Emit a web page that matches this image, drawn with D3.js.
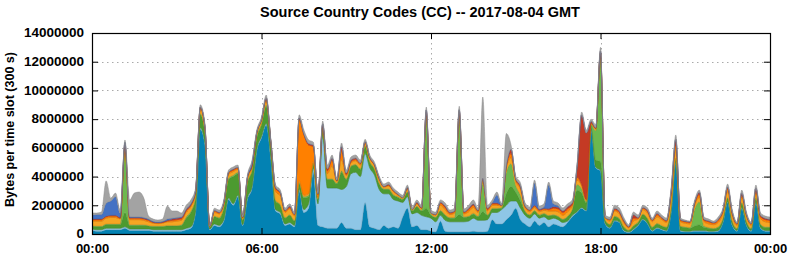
<!DOCTYPE html>
<html>
<head>
<meta charset="utf-8">
<script src="https://cdn.jsdelivr.net/npm/d3@7"></script>
<style>
  body { margin: 0; background: #fff; }
  svg { display: block; }
  text { font-family: "Liberation Sans", Arial, sans-serif; font-weight: bold; fill: #000; }
</style>
</head>
<body>
<div id="chart"></div>
<script>
// Chart text
const chartTitle = 'Source Country Codes (CC) -- 2017-08-04 GMT';
const yTitle = 'Bytes per time slot (300 s)';

// Axis ticks (y in millions of bytes, x in hours of the day)
const yTicks = [0, 2, 4, 6, 8, 10, 12, 14];
const yTickLabels = ['0', '2000000', '4000000', '6000000', '8000000', '10000000', '12000000', '14000000'];
const xTickHours = [0, 6, 12, 18, 24];
const xTickLabels = ['00:00', '06:00', '12:00', '18:00', '00:00'];

// one sample every 10 minutes, 00:00 .. 24:00
const slotMinutes = 10;

// series, bottom to top of the stack (values in millions of bytes)
const seriesKeys = ['teal', 'lightBlue', 'green', 'lightGreen', 'yellow', 'orange', 'red', 'blue', 'gray'];
const seriesColors = ['#0382b3', '#8ec6e6', '#4c9a30', '#6db84e', '#f5a623', '#ff8000', '#c43a24', '#4472c4', '#a3a3a3'];

const teal = [
  .25,.2,.2,.3,.3,.3,.3,.4,.25,.25,
  .25,.25,.25,.2,.2,.2,.2,.2,.2,.2,
  .3,.4,1.5,7.3,6.2,.3,.6,.5,.9,2.4,
  2.0,2.6,.6,2.4,3.2,5.8,6.7,7.6,5.2,1.6,
  1.4,.6,.7,.5,3.0,1.5,1.8,4.3,.6,.5,
  .4,.4,.4,.8,.4,.4,.3,.3,2.2,.5,
  .4,.3,.6,.4,.5,.4,1.2,1.8,.5,.6,
  .3,.3,.2,.15,.9,.2,.15,.15,.15,.15,
  .15,.2,.15,.15,.2,1.0,.7,.7,1.0,1.3,
  1.8,1.0,.7,.5,.9,.6,.8,.5,.7,.6,
  .5,.8,1.2,1.5,1.8,1.6,7.3,4.6,4.4,.7,
  .4,.9,.8,.2,.1,.3,.6,1.0,.7,.2,
  .4,.3,.2,1.5,5.0,.2,.15,.15,.2,.2,
  .2,.15,.15,.2,.8,2.2,.6,.2,1.8,.6,
  .2,2.2,.4,.2,.2
];
const lightBlue = [
  .1,.1,.1,.1,.1,.1,.1,.1,.1,.1,
  .1,.1,.1,.1,.1,.1,.1,.1,.1,.1,
  .1,.1,.1,.1,.1,.05,.1,.1,.1,.1,
  .1,.1,.05,.1,.1,.1,.1,.1,.1,.1,
  .1,.1,.1,.1,.1,.2,.3,.3,1.5,6.3,
  2.8,2.8,2.8,2.3,2.9,3.8,4.0,3.7,3.4,4.1,
  3.7,2.8,2.2,2.4,1.9,1.9,1.0,.8,.9,.9,
  1.0,.9,.9,.7,.4,.75,.7,.7,.7,.7,
  .75,.9,.8,.8,.8,.5,.8,1.0,1.0,1.0,
  .5,.8,.6,.6,.5,.5,.4,.5,.4,.4,
  .3,.1,.1,.05,.05,.05,.05,.05,.05,.05,
  .05,.05,.05,.05,.05,.05,.05,.05,.05,.05,
  .05,.05,.05,.05,.05,.05,.05,.05,.05,.05,
  .05,.05,.05,.05,.05,.05,.05,.05,.05,.05,
  .05,.05,.05,.05,.05
];
const green = [
  .2,.2,.2,.25,.25,.25,.25,1.0,.25,.25,
  .25,.25,.2,.2,.2,.2,.25,.25,.25,.3,
  .7,1.0,.9,.9,.7,.1,.5,.5,.8,1.3,
  1.9,1.5,.3,1.0,1.1,.8,.8,1.2,.8,.6,
  .5,.4,.5,.3,.4,.8,.5,.3,.3,.5,
  .6,.6,.3,1.2,.5,.5,.5,.5,.5,.4,
  .4,.4,.3,.3,.3,.25,.2,.3,.2,.4,
  .3,.6,.2,.3,.3,.35,.25,.25,.5,.3,
  .3,.3,.25,.6,.3,.25,.25,.1,.8,1.0,
  .6,.5,.25,.2,.2,.2,.2,.25,.2,.2,
  .2,.3,.4,1.5,1.0,.5,.2,.5,.6,.2,
  .2,.25,.2,.2,.1,.2,.15,.3,.3,.2,
  .25,.2,.2,.3,.2,.25,.25,.2,.3,.4,
  .2,.2,.15,.2,.2,.25,.2,.1,.3,.2,
  .1,.25,.2,.2,.2
];
const lightGreen = [
  .05,.05,.05,.05,.05,.05,.05,4.2,.05,.05,
  .05,.05,.05,.05,.05,.05,.05,.05,.05,.05,
  .1,.1,.1,.1,.1,.02,.05,.05,.1,.1,
  .1,.1,.05,.1,.1,.1,.1,.1,.05,.05,
  .05,.05,.05,.05,.1,.1,.1,.05,.05,.05,
  .05,.05,.05,.1,.05,.05,.05,.05,.05,.05,
  .05,.05,.05,.05,.05,.05,.05,.05,.05,.05,
  .05,6.3,.1,.05,.05,.05,.05,.05,6.7,.05,
  .05,.05,.05,2.0,.05,.05,.05,.05,1.5,1.6,
  .5,.4,.05,.05,.05,.05,.05,.05,.05,.05,
  .05,.05,.05,.4,.3,.1,.1,2.05,7.3,.05,
  .05,.05,.05,.05,.03,.05,.05,.05,.05,.05,
  .05,.05,.05,.05,.05,.05,.05,.05,1.2,1.6,
  .1,.05,.05,.05,.05,.05,.05,.05,.05,.05,
  .05,.05,.05,.05,.05
];
const yellow = [
  .3,.35,.35,.4,.45,.45,.35,.3,.35,.35,
  .35,.3,.25,.2,.17,.2,.25,.25,.3,.3,
  .3,.3,.25,.3,.2,.05,.25,.25,.2,.25,
  .25,.2,.1,.2,.2,.2,.2,.3,.15,.6,
  .6,.35,.4,.3,.1,.1,.1,.1,.1,.1,
  .35,.9,.1,.8,.2,.2,.25,.25,.15,.2,
  .2,.2,.1,.2,.2,.1,.05,.15,.05,.15,
  .1,.2,.05,.1,.35,.35,.2,.3,.3,.2,
  .3,.4,.25,.2,.25,.2,.2,.1,.3,.4,
  .3,.4,.2,.2,.2,.2,.2,.3,.25,.3,
  .25,.3,.2,.3,.2,.1,.05,.1,.2,.1,
  .2,.35,.3,.25,.15,.3,.2,.3,.35,.35,
  .45,.4,.3,.7,.6,.3,.25,.25,.25,.3,
  .3,.25,.25,.3,.35,.4,.35,.2,.35,.3,
  .2,.3,.35,.35,.3
];
const orange = [
  .1,.1,.1,.1,.1,.1,.05,.2,.1,.1,
  .1,.1,.1,.05,.05,.05,.05,.1,.1,.1,
  .1,.1,.1,.1,.1,.02,.1,.07,.07,.1,
  .1,.1,.05,.1,.05,.05,.05,.1,.05,.2,
  .2,.1,.1,.1,4.3,4.2,3.4,1.05,.2,.1,
  .2,.4,.05,.6,.1,.1,.1,.1,.1,.05,
  .05,.1,.05,.05,.05,.05,.05,.1,.03,.05,
  .05,.2,.02,.05,.15,.15,.1,.1,.2,.1,
  .15,.15,.1,.1,.1,.1,.1,.05,.1,.3,
  .1,.15,.1,.1,.1,.1,.1,.1,.2,.2,
  .2,.2,.1,.2,.1,.05,.05,.05,.1,.05,
  .1,.1,.1,.1,.05,.2,.05,.1,.1,.1,
  .15,.1,.1,.2,.3,.1,.1,.1,.1,.2,
  .1,.15,.1,.15,.15,.2,.15,.1,.15,.1,
  .1,.15,.15,.15,.15
];
const red = [
  .05,.05,.05,.05,.05,.05,.05,.15,.05,.05,
  .05,.05,.05,.04,.03,.04,.05,.1,.1,.1,
  .1,.07,.05,.05,.05,.01,.05,.05,.05,.05,
  .07,.05,.03,.05,.05,.04,.05,.08,.05,.1,
  .05,.05,.1,.03,.1,.1,.1,.1,.05,.12,
  .15,.15,.05,.3,.1,.1,.1,.05,.05,.05,
  .05,.05,.03,.07,.05,.02,0,.06,0,.07,
  .05,.14,0,.03,.07,.11,.07,.06,.1,.05,
  .1,.1,.05,.05,.1,.07,.07,0,.1,.3,
  .07,.1,.06,.03,.06,.05,.05,.07,.1,.11,
  .11,.15,.12,.65,4.85,4.64,.1,.05,.1,.02,
  .03,.1,.11,.1,.05,.25,.05,.05,.11,.04,
  .1,.07,.06,.2,.4,.06,.05,.05,.12,.16,
  .08,.07,.05,.08,.06,.13,.1,.04,.16,.08,
  .04,.21,.1,.1,.08
];
const blue = [
  .25,.3,.3,.9,1.0,1.3,.3,.05,.05,.05,
  .05,.05,.05,.05,.05,.05,.1,.05,.05,.05,
  .05,.05,.05,0,0,0,0,0,0,0,
  0,0,0,0,.2,0,0,0,0,0,
  0,0,0,0,0,0,0,0,0,0,
  0,0,0,0,0,0,0,0,0,0,
  0,0,0,0,0,0,0,0,0,0,
  0,0,0,0,0,0,0,0,0,0,
  0,0,0,0,0,0,.55,0,0,0,
  0,0,0,0,1.55,.05,.1,1.65,.2,.1,
  0,0,0,0,0,0,0,0,0,0,
  0,0,0,0,0,0,0,0,0,0,
  0,0,0,0,0,0,0,0,0,0,
  0,0,0,0,0,0,0,0,0,0,
  0,0,0,0,0
];
const gray = [
  .16,.11,.18,1.55,.2,.25,.22,.15,1.17,1.65,
  1.72,1.35,.2,.15,.12,.15,.9,.5,.45,.26,
  .25,.25,.15,.15,.2,.05,.15,.15,.15,.15,
  .15,.15,.12,.15,.15,.15,.15,.2,.15,.16,
  .16,.15,.15,.15,.2,.24,.25,.2,.2,.2,
  .25,.2,.15,.24,.2,.21,.2,.2,.15,.15,
  .15,.14,.15,.15,.15,.15,.15,.15,.15,.15,
  .15,.2,.2,.15,.15,.2,.15,.2,.25,.19,
  .2,.27,.16,5.64,.2,.2,.2,.1,2.2,.3,
  .17,.2,.2,.2,.2,.2,.2,.2,.2,.2,
  .2,.2,.2,.2,.2,.2,.15,.2,.25,.15,
  .15,.2,.2,.16,.12,.18,.17,.15,.15,.12,
  .15,.15,.15,.2,.3,.1,.07,.05,.15,.15,
  .15,.12,.1,.15,.15,.2,.17,.1,.2,.15,
  .1,.2,.16,.15,.15
];

// Layout
const W = 792, H = 259;
const margin = { top: 33, right: 22, bottom: 25, left: 92 };
const width = W - margin.left - margin.right;
const height = H - margin.top - margin.bottom;

const seriesData = [teal, lightBlue, green, lightGreen, yellow, orange, red, blue, gray];
const table = teal.map((_, i) => {
    const row = { hour: i * slotMinutes / 60 };
    seriesKeys.forEach((k, j) => { row[k] = seriesData[j][i]; });
    return row;
});

const svg = d3.select('#chart')
    .append('svg')
    .attr('width', W)
    .attr('height', H);

const g = svg.append('g')
    .attr('transform', `translate(${margin.left},${margin.top})`);

const x = d3.scaleLinear().domain([0, 24]).range([0, width]);
const y = d3.scaleLinear().domain([0, 14]).range([height, 0]);

// Dotted grid
g.append('g')
    .selectAll('line')
    .data(yTicks.slice(1, -1))
    .enter()
    .append('line')
    .attr('x1', 0)
    .attr('x2', width)
    .attr('y1', d => Math.round(y(d)) + 0.5)
    .attr('y2', d => Math.round(y(d)) + 0.5)
    .attr('stroke', '#aaa')
    .attr('stroke-dasharray', '1.5,3.5');

g.append('g')
    .selectAll('line')
    .data(xTickHours.slice(1, -1))
    .enter()
    .append('line')
    .attr('x1', d => Math.round(x(d)) + 0.5)
    .attr('x2', d => Math.round(x(d)) + 0.5)
    .attr('y1', 0)
    .attr('y2', height)
    .attr('stroke', '#aaa')
    .attr('stroke-dasharray', '1.5,3.5');

// Stacked areas
const stacked = d3.stack().keys(seriesKeys)(table);

const area = d3.area()
    .x(d => x(d.data.hour))
    .y0(d => y(d[0]))
    .y1(d => y(d[1]))
    .curve(d3.curveMonotoneX);

g.append('clipPath')
    .attr('id', 'plot-clip')
    .append('rect')
    .attr('width', width)
    .attr('height', height);

g.append('g')
    .attr('clip-path', 'url(#plot-clip)')
    .selectAll('path')
    .data(stacked)
    .enter()
    .append('path')
    .attr('d', area)
    .attr('fill', (d, i) => seriesColors[i])
    .attr('stroke', (d, i) => d3.color(seriesColors[i]).darker(0.5))
    .attr('stroke-width', 0.5);

// Axes: inward ticks on all four sides
const yAxis = d3.axisLeft(y)
    .tickValues(yTicks)
    .tickFormat((d, i) => yTickLabels[i])
    .tickSizeInner(-6)
    .tickSizeOuter(0)
    .tickPadding(8);

g.append('g')
    .call(yAxis)
    .call(a => a.select('.domain').remove())
    .call(a => a.selectAll('text').attr('font-size', '13.5px').attr('dy', '0.28em'))
    .call(a => a.selectAll('line').attr('stroke', '#000'));

g.append('g')
    .attr('transform', `translate(${width},0)`)
    .call(d3.axisRight(y).tickValues(yTicks).tickFormat('').tickSizeInner(-6).tickSizeOuter(0))
    .call(a => a.select('.domain').remove());

const xAxis = d3.axisBottom(x)
    .tickValues(xTickHours)
    .tickFormat((d, i) => xTickLabels[i])
    .tickSizeInner(-6)
    .tickSizeOuter(0)
    .tickPadding(9.5);

g.append('g')
    .attr('transform', `translate(0,${height})`)
    .call(xAxis)
    .call(a => a.select('.domain').remove())
    .call(a => a.selectAll('text').attr('font-size', '13px'));

g.append('g')
    .call(d3.axisTop(x).tickValues(xTickHours).tickFormat('').tickSizeInner(-6).tickSizeOuter(0))
    .call(a => a.select('.domain').remove());

// Frame
g.append('rect')
    .attr('x', 0.5)
    .attr('y', 0.5)
    .attr('width', width)
    .attr('height', height)
    .attr('fill', 'none')
    .attr('stroke', '#000')
    .attr('stroke-width', 1.2);

// Titles
svg.append('text')
    .attr('x', 420)
    .attr('y', 17)
    .attr('text-anchor', 'middle')
    .attr('font-size', '14.5px')
    .text(chartTitle);

svg.append('text')
    .attr('transform', `translate(14,${margin.top + height / 2 - 4}) rotate(-90)`)
    .attr('text-anchor', 'middle')
    .attr('font-size', '12.5px')
    .text(yTitle);
</script>
</body>
</html>
